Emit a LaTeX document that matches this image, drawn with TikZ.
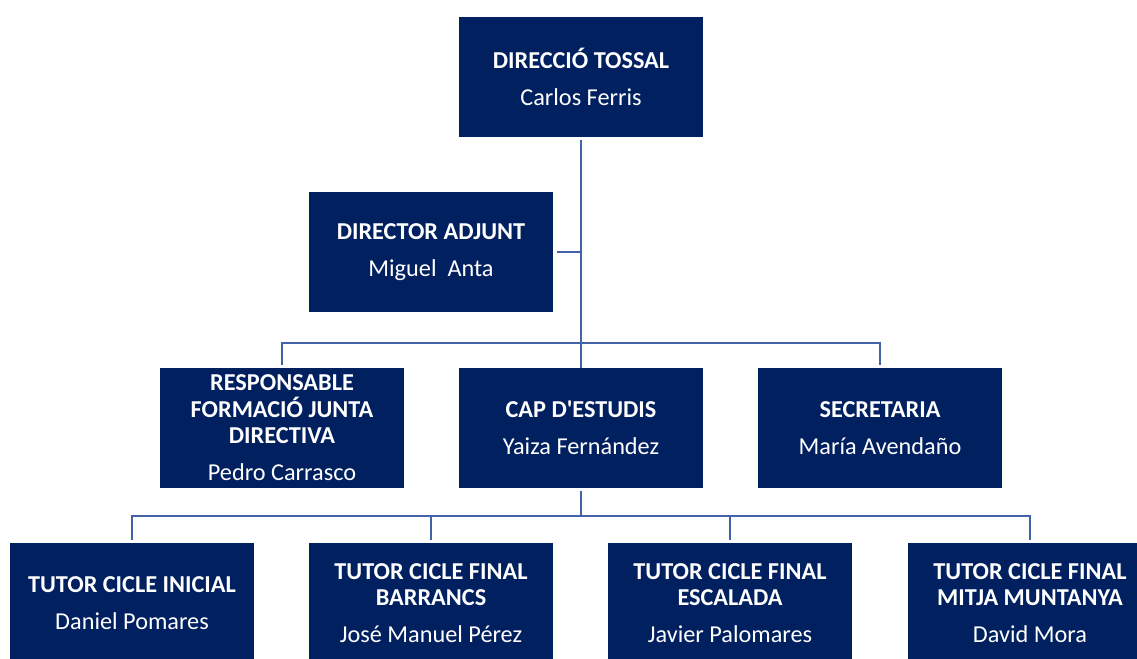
\documentclass[tikz,border=0pt]{standalone}
\usepackage{fontspec}
\setmainfont{Carlito}
\definecolor{boxblue}{HTML}{002060}
\definecolor{lineblue}{HTML}{4262A9}
\begin{document}
\begin{tikzpicture}[x=0.75pt,y=-0.75pt,
  orgbox/.style={fill=boxblue, draw=none, minimum width=183pt, minimum height=90pt,
    text=white, align=center, inner sep=0pt, font=\fontsize{18.2}{19.9}\selectfont},
  link/.style={draw=lineblue, line width=2pt}]
\useasboundingbox (0,0) rectangle (1137,658);
\clip (0,0) rectangle (1137,658);
\fill[white] (0,0) rectangle (1137,658);
\node[orgbox] (top) at (581,77) {\textbf{DIRECCIÓ TOSSAL}\\[7.9pt]Carlos Ferris};
\node[orgbox] (adj) at (431,252) {\textbf{DIRECTOR ADJUNT}\\[7.9pt]Miguel\ \ Anta};
\node[orgbox] (resp) at (282,428) {\textbf{RESPONSABLE}\\\textbf{FORMACIÓ JUNTA}\\\textbf{DIRECTIVA}\\[7.9pt]Pedro Carrasco};
\node[orgbox] (cap) at (581,428) {\textbf{CAP D\textquotesingle ESTUDIS}\\[7.9pt]Yaiza Fernández};
\node[orgbox] (sec) at (880,428) {\textbf{SECRETARIA}\\[7.9pt]María Avendaño};
\node[orgbox] (t1) at (132,603) {\textbf{TUTOR CICLE INICIAL}\\[7.9pt]Daniel Pomares};
\node[orgbox] (t2) at (431,603) {\textbf{TUTOR CICLE FINAL}\\\textbf{BARRANCS}\\[7.9pt]José Manuel Pérez};
\node[orgbox] (t3) at (730,603) {\textbf{TUTOR CICLE FINAL}\\\textbf{ESCALADA}\\[7.9pt]Javier Palomares};
\node[orgbox] (t4) at (1030,603) {\textbf{TUTOR CICLE FINAL}\\\textbf{MITJA MUNTANYA}\\[7.9pt]David Mora};
\coordinate (bus1) at (581,343);
\coordinate (bus2) at (581,516);
\draw[link, shorten <=2.25pt] (top.south) -- (cap.north);
\draw[link, shorten <=3pt] (adj.east) -- (adj.east -| top.south);
\draw[link, shorten <=2.25pt] (resp.north) |- (bus1) -| (sec.north) [shorten >=2.25pt];
\draw[link, shorten <=2.25pt] (cap.south) -- (bus2);
\draw[link, shorten <=2.25pt, shorten >=2.25pt] (t1.north) |- (bus2) -| (t4.north);
\draw[link, shorten <=2.25pt] (t2.north) |- (bus2);
\draw[link, shorten <=2.25pt] (t3.north) |- (bus2);
\end{tikzpicture}
\end{document}
